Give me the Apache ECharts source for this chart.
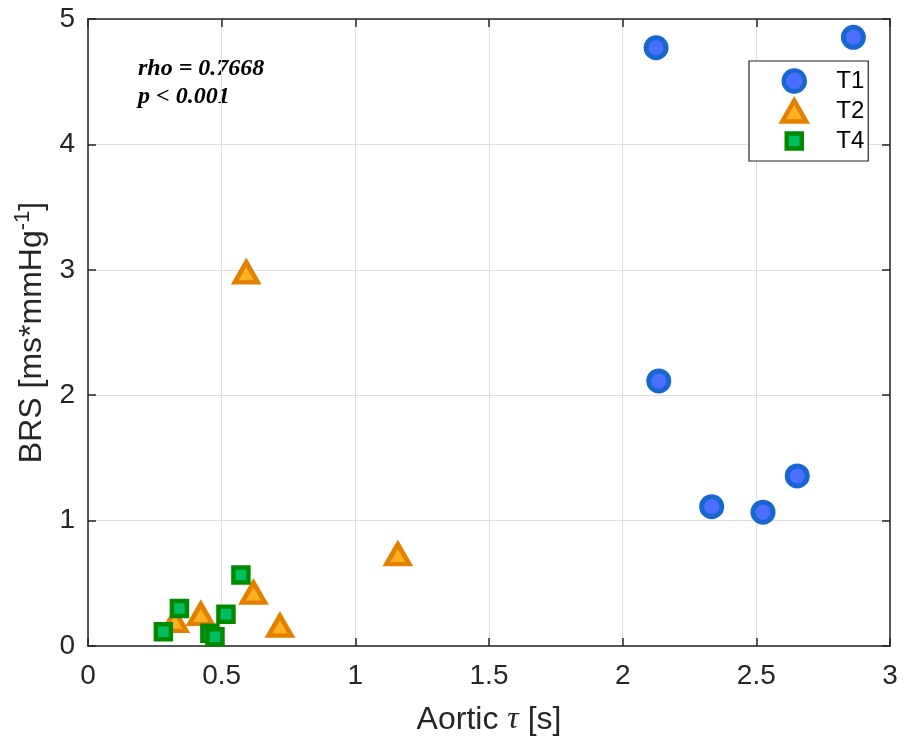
<!DOCTYPE html>
<html>
<head>
<meta charset="utf-8">
<script src="https://cdn.jsdelivr.net/npm/echarts@6/dist/echarts.min.js"></script>
<style>
  html, body { margin: 0; padding: 0; background: #fff; }
  #chart { width: 904px; height: 744px; }
</style>
</head>
<body>
<div id="chart"></div>
<script>
// data
var t1X = [2.125, 2.863, 2.135, 2.333, 2.525, 2.653];
var t1Y = [4.771, 4.854, 2.114, 1.111, 1.067, 1.356];
var t2X = [0.592, 1.159, 0.619, 0.422, 0.325, 0.718];
var t2Y = [2.98, 0.732, 0.425, 0.255, 0.20, 0.162];
var t4X = [0.572, 0.342, 0.516, 0.282, 0.456, 0.475];
var t4Y = [0.566, 0.30, 0.253, 0.114, 0.101, 0.074];
var seriesNames = ['T1', 'T2', 'T4'];
var statLines = ['rho = 0.7668', 'p < 0.001'];

function pairs(xs, ys) {
  return xs.map(function (x, i) { return [x, ys[i]]; });
}

var axisCol = '#262626';
var sans = '"Liberation Sans", Arial, sans-serif';

var myChart = echarts.init(document.getElementById('chart'));

// box axes (top / right) only carry ticks, like the matlab box
function boxAxis(pos, min, max, interval) {
  return {
    type: 'value', position: pos, min: min, max: max, interval: interval,
    axisLine: { show: true, onZero: false, lineStyle: { color: axisCol, width: 1.5 } },
    axisTick: { show: true, inside: true, length: 8, lineStyle: { color: axisCol, width: 1.5 } },
    axisLabel: { show: false },
    splitLine: { show: false }
  };
}

var option = {
  animation: false,
  backgroundColor: '#fff',
  grid: { left: 88, right: 14, top: 19, bottom: 98 },
  xAxis: [{
    type: 'value', min: 0, max: 3, interval: 0.5,
    name: '{a|Aortic }{t|τ}{a| [s]}',
    nameLocation: 'middle', nameGap: 58,
    nameTextStyle: {
      rich: {
        a: { fontFamily: sans, fontSize: 32, color: axisCol },
        t: { fontFamily: '"Liberation Serif", serif', fontStyle: 'italic', fontSize: 32, color: axisCol }
      }
    },
    axisLine: { onZero: false, lineStyle: { color: axisCol, width: 1.5 } },
    axisTick: { inside: true, length: 8, lineStyle: { color: axisCol, width: 1.5 } },
    axisLabel: { fontFamily: sans, fontSize: 28, color: axisCol, margin: 16 },
    splitLine: { show: true, lineStyle: { color: '#dedede', width: 1 } }
  }, boxAxis('top', 0, 3, 0.5)],
  yAxis: [{
    type: 'value', min: 0, max: 5, interval: 1,
    name: '{a|BRS [ms*mmHg}{s|-1}{a|]}',
    nameLocation: 'middle', nameGap: 36, nameRotate: 90,
    nameTextStyle: {
      rich: {
        a: { fontFamily: sans, fontSize: 32, color: axisCol },
        s: { fontFamily: sans, fontSize: 22, color: axisCol, padding: [0, 0, 18, 0] }
      }
    },
    axisLine: { onZero: false, lineStyle: { color: axisCol, width: 1.5 } },
    axisTick: { inside: true, length: 8, lineStyle: { color: axisCol, width: 1.5 } },
    axisLabel: { fontFamily: sans, fontSize: 28, color: axisCol, margin: 13 },
    splitLine: { show: true, lineStyle: { color: '#dedede', width: 1 } }
  }, boxAxis('right', 0, 5, 1)],
  legend: {
    orient: 'vertical',
    left: 749, top: 61,
    padding: [7, 4, 7, 31],
    itemWidth: 24, itemHeight: 21, itemGap: 4,
    backgroundColor: '#fff',
    borderColor: axisCol, borderWidth: 1.2, borderRadius: 0,
    itemStyle: { borderWidth: 4.5 },
    textStyle: { fontFamily: sans, fontSize: 24, color: '#000', lineHeight: 26, padding: [0, 0, 0, 25] },
    data: [
      { name: seriesNames[0] },
      { name: seriesNames[1] },
      { name: seriesNames[2], icon: 'path://M0,0M24,21M4.5,3h15v15h-15z' }
    ]
  },
  graphic: [
    { type: 'text', left: 138, top: 57, style: { text: statLines[0], font: 'italic bold 24px "Liberation Serif", serif', fill: '#000' } },
    { type: 'text', left: 138, top: 85, style: { text: statLines[1], font: 'italic bold 24px "Liberation Serif", serif', fill: '#000' } }
  ],
  series: [
    {
      name: seriesNames[0], type: 'scatter', symbol: 'circle', symbolSize: 20,
      itemStyle: { color: '#4C6EFF', borderColor: '#1866D0', borderWidth: 5, opacity: 1 },
      data: pairs(t1X, t1Y)
    },
    {
      name: seriesNames[1], type: 'scatter', symbol: 'triangle', symbolSize: [23, 20],
      itemStyle: { color: '#FFB020', borderColor: '#E38000', borderWidth: 4.5, opacity: 1 },
      data: pairs(t2X, t2Y)
    },
    {
      name: seriesNames[2], type: 'scatter', symbol: 'rect', symbolSize: 15,
      itemStyle: { color: '#00BE64', borderColor: '#008A00', borderWidth: 4.5, opacity: 1 },
      data: pairs(t4X, t4Y)
    }
  ]
};
myChart.setOption(option);
</script>
</body>
</html>
